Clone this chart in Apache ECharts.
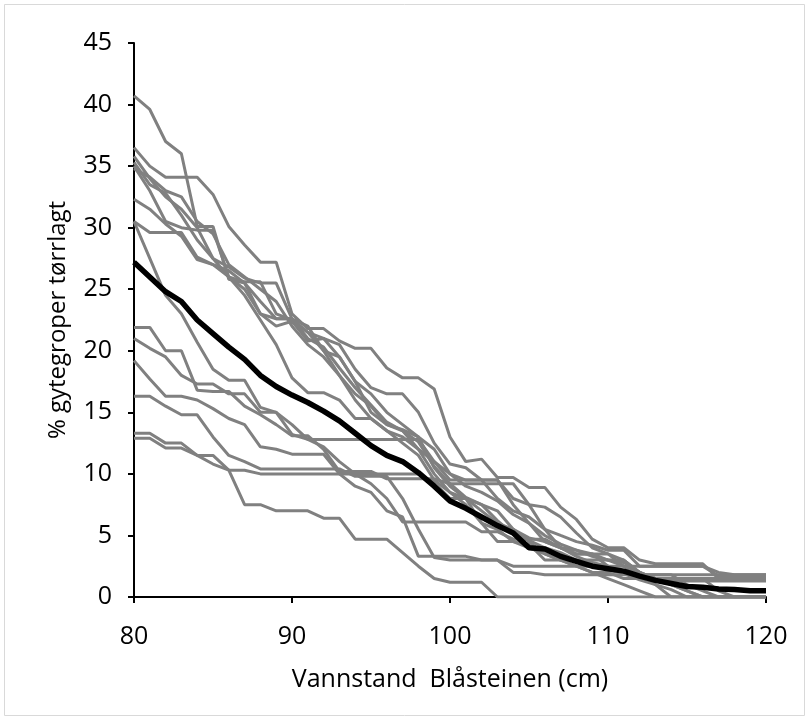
<!DOCTYPE html>
<html>
<head>
<meta charset="utf-8">
<script src="https://cdn.jsdelivr.net/npm/echarts@6/dist/echarts.min.js"></script>
<style>
  html, body { margin: 0; padding: 0; background: #fff; }
  #chart { width: 809px; height: 720px; }
</style>
</head>
<body>
<div id="chart"></div>
<script>
// water level, cm (one reading per cm)
const levels = [80,81,82,83,84,85,86,87,88,89,90,91,92,93,94,95,96,97,98,99,100,
                101,102,103,104,105,106,107,108,109,110,111,112,113,114,115,116,117,118,119,120];

// % of spawning pits dried out, one array per simulated series
const g1  = [40.7,39.6,37.0,36.0,30.1,30.1,25.8,25.5,24.0,22.6, 22.6,21.0,20.3,18.6,17.0,15.6,14.2,13.5,12.6,10.6, 9.2,8.1,7.5,6.2,5.1,4.6,4.0,3.6,3.0,2.6, 2.2,1.9,1.4,1.0,0.6,0,0,0,0,0, 0];
const g2  = [36.5,35.0,34.1,34.1,34.1,32.7,30.1,28.6,27.2,27.2, 23.0,21.8,21.8,20.8,20.2,20.2,18.6,17.8,17.8,16.9, 13.0,11.0,11.2,9.7,9.7,8.9,8.9,7.3,6.3,4.7, 4.0,4.0,3.0,2.7,2.7,2.7,2.7,1.5,1.5,1.5, 1.5];
const g3  = [35.8,34.0,32.5,31.5,30.0,27.5,26.8,25.9,25.5,25.5, 22.6,22.0,20.0,18.0,16.5,15.5,14.0,13.6,13.0,12.0, 10.0,9.0,8.5,7.8,6.7,6.0,5.0,4.3,3.8,3.3, 3.0,2.8,2.0,1.5,1.0,0.5,0,0,0,0, 0];
const g4  = [35.3,33.5,32.8,31.0,29.0,27.5,26.0,25.6,25.6,23.0, 22.5,21.5,21.0,19.5,17.5,15.0,14.0,13.5,12.0,11.0, 10.0,9.5,9.5,9.5,7.5,6.0,4.5,4.0,3.8,3.5, 3.5,2.5,2.0,1.5,1.3,1.3,1.3,1.3,1.3,1.3, 1.3];
const g5  = [35.0,33.0,30.5,30.0,29.8,29.8,26.0,25.0,23.0,22.6, 22.6,21.5,20.0,19.5,17.5,16.5,15.0,14.0,13.0,10.5, 9.0,8.0,7.5,7.0,5.5,4.8,4.5,4.0,3.5,3.5, 2.5,2.0,1.8,1.8,1.8,1.8,1.8,1.8,1.8,1.8, 1.8];
const g6  = [32.3,31.5,30.3,29.3,27.4,27.0,26.5,25.5,23.0,22.0, 22.4,20.8,21.0,20.5,18.5,17.0,16.5,16.5,15.0,12.5, 10.8,10.5,9.5,8.0,7.0,6.5,5.5,5.0,4.5,4.2, 3.8,3.8,2.5,2.5,2.5,2.5,2.5,1.7,1.7,1.7, 1.7];
const g7  = [30.5,29.6,29.6,29.6,27.6,27.0,26.0,24.5,22.5,20.5, 17.8,16.6,16.6,16.0,14.5,14.5,13.5,12.5,11.5,9.5, 8.5,7.5,6.0,5.5,4.5,4.0,3.5,3.0,2.5,2.0, 2.0,1.5,1.5,1.5,1.5,1.5,1.5,1.5,1.5,1.5, 1.5];
const g8  = [30.5,27.5,24.5,23.0,20.7,18.5,17.6,17.6,15.4,15.0, 13.2,12.8,12.8,12.8,12.8,12.8,12.8,12.8,12.8,11.0, 9.5,9.5,9.5,9.5,8.0,7.5,7.3,6.5,5.2,4.0, 3.5,3.0,2.0,1.5,1.5,1.5,1.5,0.5,0,0, 0];
const g9  = [21.9,21.9,20.0,20.0,16.8,16.7,16.7,15.5,14.8,14.0, 13.1,13.1,12.0,10.2,10.2,10.2,9.6,9.6,9.6,9.6, 9.2,9.2,9.2,9.2,9.2,7.5,5.5,4.0,3.3,2.8, 2.5,2.0,1.5,1.5,1.5,1.5,1.5,1.5,1.5,1.5, 1.5];
const g10 = [21.0,20.2,19.5,18.0,17.3,17.3,16.5,16.5,15.0,15.0, 14.0,12.8,12.2,11.0,10.0,9.2,8.0,6.1,6.1,6.1, 6.1,6.1,5.3,5.3,4.7,4.7,4.7,4.0,3.5,3.5, 3.0,2.5,1.8,1.5,1.0,0.5,0,0,0,0, 0];
const g11 = [19.2,17.7,16.3,16.3,16.0,15.3,14.5,14.0,12.2,12.0, 11.6,11.6,11.6,10.0,9.0,8.5,7.0,6.5,3.3,3.3, 3.3,3.3,3.0,3.0,2.5,2.5,2.5,2.5,2.5,2.5, 2.5,2.5,2.5,2.5,2.5,2.5,2.5,2.0,1.8,1.8, 1.8];
const g12 = [16.3,16.3,15.5,14.8,14.8,13.0,11.5,11.0,10.4,10.4, 10.4,10.4,10.4,10.4,9.8,9.8,9.8,8.0,5.5,3.2, 3.0,3.0,3.0,3.0,2.0,2.0,1.8,1.8,1.8,1.8, 1.8,1.8,1.8,1.8,1.8,1.0,0.5,0,0,0, 0];
const g13 = [13.3,13.3,12.5,12.5,11.5,11.5,10.3,10.3,10.0,10.0, 10.0,10.0,10.0,10.0,10.0,10.0,10.0,10.0,10.0,9.3, 8.0,8.0,6.0,4.5,4.5,4.3,3.0,3.0,3.0,3.0, 3.0,3.0,2.0,1.0,0,0,0,0,0,0, 0];
const g14 = [12.9,12.9,12.1,12.1,11.5,10.8,10.3,7.5,7.5,7.0, 7.0,7.0,6.4,6.4,4.7,4.7,4.7,3.6,2.5,1.5, 1.2,1.2,1.2,0,0,0,0,0,0,0, 0,0,0,0,0,0,0,0,0,0, 0];
const g15 = [34.8,34.1,33.0,32.5,30.5,29.5,27.0,26.0,25.0,24.0, 22.0,20.5,19.5,18.0,16.0,14.5,13.5,13.0,12.0,10.0, 8.5,8.0,7.0,6.0,5.5,4.5,3.5,3.0,2.5,2.0, 1.5,1.0,0.5,0,0,0,0,0,0,0, 0];

// average of all series
const mean = [27.2,26.0,24.8,24.0,22.5,21.4,20.3,19.3,18.0,17.1, 16.4,15.8,15.1,14.3,13.3,12.3,11.5,11.0,10.1,9.0, 7.8,7.2,6.5,5.8,5.2,4.0,3.9,3.3,2.9,2.5, 2.3,2.1,1.7,1.35,1.1,0.85,0.8,0.65,0.6,0.5, 0.5];

const grays = [g1, g2, g3, g4, g5, g6, g7, g8, g9, g10, g11, g12, g13, g14, g15];

const pair = arr => levels.map((x, i) => [x, arr[i]]);

const series = grays.map(g => ({
    type: 'line',
    data: pair(g),
    showSymbol: false,
    symbol: 'none',
    lineStyle: { color: '#808080', width: 3 },
    silent: true,
    z: 2
}));
series.push({
    type: 'line',
    data: pair(mean),
    symbol: 'none',
    lineStyle: { color: '#000000', width: 5.5 },
    silent: true,
    z: 3
});

const font = '"Open Sans", sans-serif';

const chart = echarts.init(document.getElementById('chart'), null, { renderer: 'canvas' });
chart.setOption({
    backgroundColor: '#ffffff',
    animation: false,
    graphic: [{
        type: 'rect',
        shape: { x: 4.5, y: 4.5, width: 800, height: 711 },
        style: { fill: 'none', stroke: '#d9d9d9', lineWidth: 1 },
        silent: true
    }],
    grid: { left: 134, right: 43, top: 43, bottom: 123 },
    xAxis: {
        type: 'value',
        min: 80,
        max: 120,
        interval: 10,
        name: 'Vannstand  Blåsteinen (cm)',
        nameLocation: 'middle',
        nameGap: 70,
        nameTextStyle: { color: '#000', fontSize: 25, fontFamily: font },
        axisLine: { show: true, lineStyle: { color: '#000', width: 2 } },
        axisTick: { show: true, length: 6, lineStyle: { color: '#000', width: 2 } },
        axisLabel: { color: '#000', fontSize: 25, fontFamily: font, margin: 27 },
        splitLine: { show: false }
    },
    yAxis: {
        type: 'value',
        min: 0,
        max: 45,
        interval: 5,
        name: '% gytegroper tørrlagt',
        nameLocation: 'middle',
        nameGap: 64,
        nameTextStyle: { color: '#000', fontSize: 24, fontFamily: font },
        axisLine: { show: true, lineStyle: { color: '#000', width: 2 } },
        axisTick: { show: true, length: 6, lineStyle: { color: '#000', width: 2 } },
        axisLabel: { color: '#000', fontSize: 25, fontFamily: font, margin: 22 },
        splitLine: { show: false }
    },
    series: series
});
</script>
</body>
</html>
